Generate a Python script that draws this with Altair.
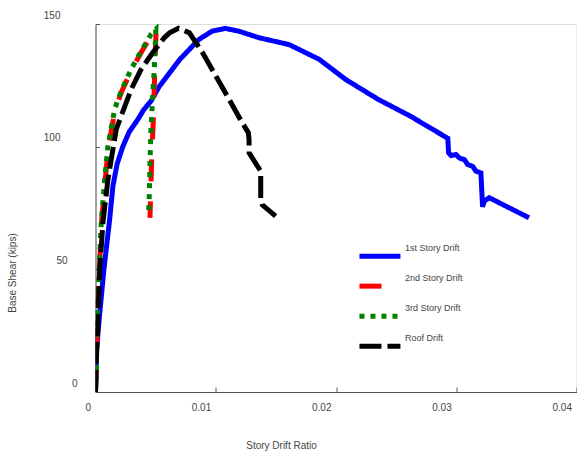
import altair as alt
import pandas as pd

# 1st Story Drift
s1_ratio = [0, 0.00007, 0.00035, 0.0007, 0.00117, 0.00145, 0.0018, 0.00227, 0.0028, 0.00351,
            0.0040, 0.0046, 0.0053,
            0.0070, 0.0086, 0.0097, 0.0108, 0.0119, 0.0136, 0.0161, 0.0186, 0.0208, 0.0235,
            0.0262, 0.0293, 0.02936, 0.02957, 0.02998, 0.03026, 0.03068, 0.03095, 0.03136,
            0.03164, 0.03205, 0.03219, 0.03233, 0.03274, 0.03605]
s1_shear = [0, 16, 32, 50, 70, 84, 93, 100, 106, 111,
            115, 118.5, 124.5,
            135.5, 143.7, 147.1, 148.2, 147.1, 144.4, 141.6, 135.6, 127.4, 119.3,
            112.4, 103.4, 97.5, 96.4, 96.8, 95.4, 94.7, 92.7, 92.0,
            90.0, 89.3, 75.5, 77.8, 79.2, 71.0]

# 2nd Story Drift
s2_ratio = [0, 0.00007, 0.00013, 0.0003, 0.00045, 0.0005, 0.0008, 0.00107, 0.00163, 0.00217,
            0.003, 0.00383, 0.00465, 0.00505, 0.00497, 0.00489, 0.00481, 0.00469, 0.00461, 0.00453]
s2_shear = [0, 10, 28, 46.5, 64, 69, 86, 100, 115, 122.4,
            131.3, 138.7, 145.5, 147.8, 138.2, 124.6, 111.0, 97.5, 83.9, 71.0]

# 3rd Story Drift
s3_ratio = [0, 0.00007, 0.00012, 0.00029, 0.00043, 0.00048, 0.00076, 0.00103, 0.00159, 0.00213,
            0.00296, 0.00379, 0.00461, 0.00502, 0.00489, 0.00475, 0.00461, 0.00453, 0.00448, 0.00442]
s3_shear = [0, 10.4, 28.3, 46.7, 64.2, 69, 86.5, 100.2, 115.2, 122.6,
            131.5, 138.9, 145.7, 147.8, 131.5, 120.6, 106.8, 93.4, 81.2, 73.0]

# Roof Drift
r_ratio = [0, 0.00007, 0.00021, 0.00035, 0.00062, 0.00103, 0.00131, 0.00172, 0.00213, 0.00296,
           0.00379, 0.00475, 0.00572, 0.00616, 0.0069, 0.00781, 0.00891, 0.01002, 0.01112, 0.01221,
           0.01271, 0.01277, 0.01277, 0.01374, 0.01374, 0.01387, 0.01498]
r_shear = [0, 13.2, 30.8, 49.9, 69.1, 86.5, 94.8, 107, 112.4, 123.3,
           131.5, 138.3, 144.4, 146.4, 148.3, 146.4, 138.3, 128.7, 119.2, 109.7,
           105.7, 102.9, 97.5, 90.0, 78.5, 76.3, 71.7]

series_names = ["1st Story Drift", "2nd Story Drift", "3rd Story Drift", "Roof Drift"]
series_colors = ["#0000ff", "#ff0000", "#008000", "#000000"]
series_dashes = [[1, 0], [22, 20], [5, 6], [22, 6]]

x_ticks = [0, 0.01, 0.02, 0.03, 0.04]
y_ticks = [0, 50, 100, 150]

rows = []
for name, xs, ys in zip(series_names, [s1_ratio, s2_ratio, s3_ratio, r_ratio],
                        [s1_shear, s2_shear, s3_shear, r_shear]):
    for i, (a, b) in enumerate(zip(xs, ys)):
        rows.append({"series": name, "ratio": a, "shear": b, "idx": i})
df = pd.DataFrame(rows)

W, H = 481, 368
FONT = "Liberation Sans"
GREY = "#444444"

leg = alt.Legend(
    title=None, orient="none", legendX=272.95, legendY=212.35, padding=0,
    symbolType="M-2.398,0.971H2.398", symbolSize=292, symbolStrokeWidth=5,
    labelFontSize=9, labelFont=FONT, labelColor=GREY, labelOffset=13.45,
    rowPadding=0,
)

xscale = alt.Scale(domain=[0, 0.04], nice=False, zero=False)
yscale = alt.Scale(domain=[0, 150], nice=False, zero=False)

lines = alt.Chart(df).mark_line(strokeWidth=5, clip=True).encode(
    x=alt.X("ratio:Q", scale=xscale, title="Story Drift Ratio",
            axis=alt.Axis(values=x_ticks, ticks=False, tickSize=0, grid=False,
                          labelAlign="right", labelOffset=-5, labelBaseline="middle",
                          labelPadding=15.5, labelFontSize=10, labelFont=FONT, labelColor=GREY,
                          domainColor="#555555", titleFont=FONT, titleFontSize=10,
                          titleFontWeight="normal", titleColor=GREY, titleX=185.5, titleY=53.5,
                          titleAlign="center", titleBaseline="middle", format="~g")),
    y=alt.Y("shear:Q", scale=yscale, title="Base Shear (kips)",
            axis=alt.Axis(values=y_ticks, ticks=False, tickSize=0, grid=False,
                          labelAlign="right", labelOffset=-9, labelBaseline="middle",
                          labelPadding={"condition": [{"test": "datum.value >= 100", "value": 35.5},
                                                      {"test": "datum.value == 50", "value": 28.5}],
                                        "value": 18.5},
                          labelFontSize=10, labelFont=FONT, labelColor=GREY,
                          domainColor="#555555", titleFont=FONT, titleFontSize=10,
                          titleFontWeight="normal", titleColor=GREY, titleX=-83, titleY=248.5,
                          titleAlign="center", titleBaseline="middle", titleAngle=270)),
    color=alt.Color("series:N", scale=alt.Scale(domain=series_names, range=series_colors), legend=leg),
    strokeDash=alt.StrokeDash("series:N", scale=alt.Scale(domain=series_names, range=series_dashes), legend=leg),
    order=alt.Order("idx:Q"),
)

ticks_layer = alt.Chart(df).mark_line(opacity=0).encode(
    x=alt.X("ratio:Q", scale=xscale,
            axis=alt.Axis(orient="top", offset=-H, values=x_ticks, labels=False, domain=False,
                          ticks=True, tickSize=5, tickColor="#555555", grid=False, title=None)),
    y=alt.Y("shear:Q", scale=yscale,
            axis=alt.Axis(orient="right", offset=-W, values=y_ticks, labels=False, domain=False,
                          ticks=True, tickSize=4, tickColor="#555555", grid=False, title=None)),
    detail="series:N",
)

chart = alt.layer(lines, ticks_layer).resolve_axis(x="independent", y="independent").properties(
    width=W, height=H,
    autosize=alt.AutoSizeParams(type="none"),
    padding={"left": 95.5, "top": 24, "right": 0, "bottom": 60},
).configure_view(stroke=None).configure(background="white")

chart.save("out.html", embed_options={"renderer": "svg", "actions": False})
